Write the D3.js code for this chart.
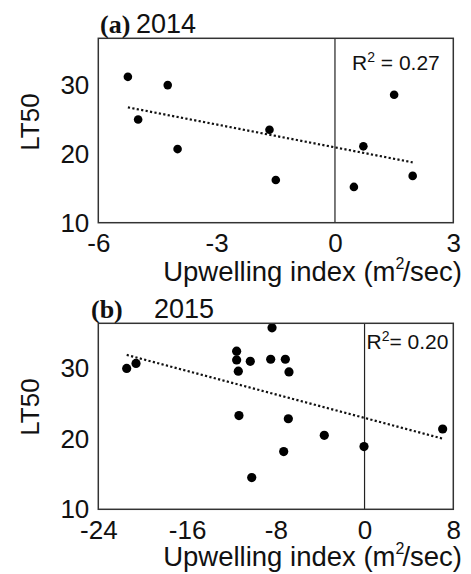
<!DOCTYPE html>
<html>
<head>
<meta charset="utf-8">
<script src="https://cdn.jsdelivr.net/npm/d3@7"></script>
<style>
  body { margin: 0; background: #fff; }
  svg { display: block; }
</style>
</head>
<body>
<svg id="chart" width="471" height="574"></svg>
<script>
// 2014 panel
var upwelling2014 = [-5.25, -4.24, -4.99, -3.99, -1.66, -1.50, 0.48, 0.72, 1.50, 1.97];
var lt50_2014     = [31.2, 30.0, 25.0, 20.7, 23.5, 16.2, 15.2, 21.1, 28.6, 16.8];
var fit2014 = { intercept: 20.95, slope: -1.107 };

// 2015 panel
var upwelling2015 = [-21.44, -20.6, -11.53, -11.53, -11.38, -10.30, -8.34, -8.46, -7.14, -6.81,
                     -11.32, -6.87, -3.63, -7.29, -10.17, -0.05, 7.04];
var lt50_2015     = [30.0, 30.7, 32.45, 31.2, 29.6, 31.0, 35.76, 31.3, 31.3, 29.5,
                     23.3, 22.85, 20.5, 18.2, 14.5, 18.9, 21.4];
var fit2015 = { intercept: 22.97, slope: -0.417 };

var xTicks2014 = [-6, -3, 0, 3];
var xTicks2015 = [-24, -16, -8, 0, 8];
var yTicks = [10, 20, 30];

var sans = "'Liberation Sans', Arial, sans-serif";
var serif = "'Liberation Serif', 'Times New Roman', serif";

var svg = d3.select("#chart");

function drawPanel(p) {
    var x = d3.scaleLinear().domain(p.xDomain).range([p.left, p.right]);
    var y = d3.scaleLinear().domain(p.yDomain).range([p.bottom, p.top]);
    var g = svg.append("g");

    // zero line
    g.append("line")
        .attr("x1", x(0)).attr("x2", x(0))
        .attr("y1", p.top).attr("y2", p.bottom)
        .attr("stroke", "#222")
        .attr("stroke-width", 1.2);

    // trend line, over the range of the points
    var ext = d3.extent(p.xs);
    g.append("line")
        .attr("x1", x(ext[0])).attr("y1", y(p.fit.intercept + p.fit.slope * ext[0]))
        .attr("x2", x(ext[1])).attr("y2", y(p.fit.intercept + p.fit.slope * ext[1]))
        .attr("stroke", "#111")
        .attr("stroke-width", 2.2)
        .attr("stroke-dasharray", "2.2,2.3");

    g.append("g")
        .selectAll("circle")
        .data(p.xs.map((d, i) => [d, p.ys[i]]))
        .join("circle")
        .attr("cx", d => x(d[0]))
        .attr("cy", d => y(d[1]))
        .attr("r", p.r)
        .attr("fill", "#000");

    // frame
    g.append("rect")
        .attr("x", p.left).attr("y", p.top)
        .attr("width", p.right - p.left).attr("height", p.bottom - p.top)
        .attr("fill", "none")
        .attr("stroke", "#333")
        .attr("stroke-width", 1.5);

    // plain hyphen for negatives, like the original
    var xAxis = g.append("g")
        .attr("transform", `translate(0,${p.bottom})`)
        .call(d3.axisBottom(x).tickValues(p.xTicks).tickSize(0).tickPadding(11).tickFormat(d => String(d)));
    xAxis.select(".domain").remove();
    xAxis.selectAll("text")
        .attr("font-family", sans).attr("font-size", 26).attr("fill", "#111");

    var yAxis = g.append("g")
        .attr("transform", `translate(${p.left},0)`)
        .call(d3.axisLeft(y).tickValues(yTicks).tickSize(0).tickPadding(9));
    yAxis.select(".domain").remove();
    yAxis.selectAll("text")
        .attr("font-family", sans).attr("font-size", 26).attr("fill", "#111");

    // axis titles
    var xt = g.append("text")
        .attr("x", 462).attr("y", p.xTitleY)
        .attr("text-anchor", "end")
        .attr("font-family", sans).attr("font-size", 27.5).attr("fill", "#111");
    xt.append("tspan").text("Upwelling index (m");
    xt.append("tspan").attr("font-size", 16).attr("dy", -12).attr("dx", 0).text("2");
    xt.append("tspan").attr("dy", 12).attr("dx", -2).text("/sec)");

    g.append("text")
        .attr("transform", `translate(39,${p.yTitleY}) rotate(-90)`)
        .attr("text-anchor", "middle")
        .attr("font-family", sans).attr("font-size", 26).attr("fill", "#111")
        .text("LT50");

    // panel title
    g.append("text")
        .attr("x", p.tagX).attr("y", p.titleY)
        .attr("font-family", serif).attr("font-weight", "bold").attr("font-size", 26)
        .attr("fill", "#111")
        .text(p.tag);
    g.append("text")
        .attr("x", p.yearX).attr("y", p.titleY)
        .attr("font-family", sans).attr("font-size", 27).attr("fill", "#111")
        .text(p.year);

    // R squared
    var rt = g.append("text")
        .attr("x", p.rX).attr("y", p.rY)
        .attr("font-family", sans).attr("font-size", 21).attr("fill", "#111");
    rt.append("tspan").text("R");
    rt.append("tspan").attr("font-size", 14).attr("dy", -8).text("2");
    rt.append("tspan").attr("dy", 8).text(p.rText);
}

drawPanel({
    xs: upwelling2014, ys: lt50_2014, fit: fit2014,
    xDomain: [-6, 3], yDomain: [10, 36.8], xTicks: xTicks2014,
    left: 98.3, right: 453.3, top: 38.3, bottom: 222.7, r: 4.3,
    xTitleY: 281, yTitleY: 122,
    tag: "(a)", tagX: 100, year: "2014", yearX: 136, titleY: 33,
    rX: 352, rY: 69.5, rText: " = 0.27"
});

drawPanel({
    xs: upwelling2015, ys: lt50_2015, fit: fit2015,
    xDomain: [-24, 8], yDomain: [10, 36.4], xTicks: xTicks2015,
    left: 98.3, right: 453.3, top: 323.3, bottom: 509.3, r: 4.6,
    xTitleY: 566, yTitleY: 407,
    tag: "(b)", tagX: 91, year: "2015", yearX: 154, titleY: 318,
    rX: 366.5, rY: 349, rText: "= 0.20"
});
</script>
</body>
</html>
